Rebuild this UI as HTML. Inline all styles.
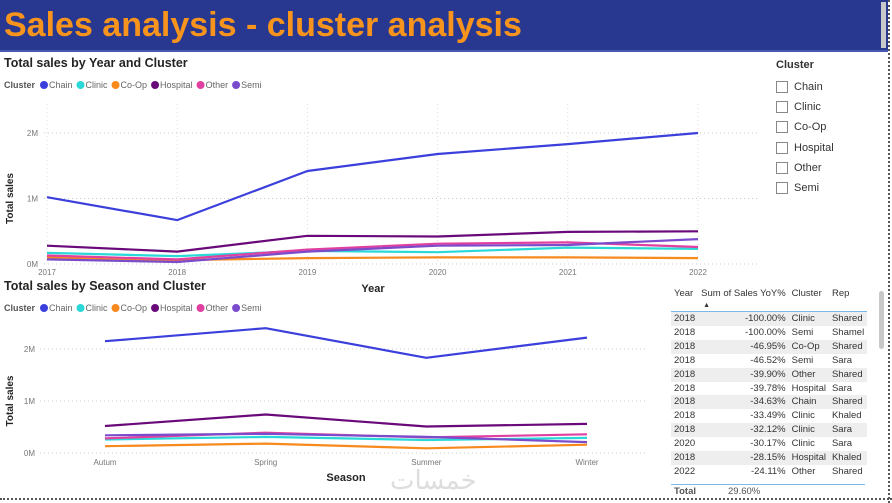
<!DOCTYPE html>
<html><head><meta charset="utf-8">
<style>
body{margin:0;width:892px;height:503px;overflow:hidden;background:#fff;font-family:"Liberation Sans",sans-serif;position:relative}
#hdr{position:absolute;left:0;top:0;width:888px;height:52px;background:#283890;border-bottom:2px solid #4a5ab0;box-sizing:border-box}
#hdr h1{margin:0;position:absolute;left:4px;top:6px;font-size:34px;font-weight:bold;color:#f7941d;letter-spacing:0px}
#hsb{position:absolute;left:881px;top:2px;width:5px;height:46px;background:#c8c8c8}
.vb{position:absolute;left:888px;top:0;height:503px;border-left:2px dotted #555}
.hb{position:absolute;left:0;top:498px;width:892px;border-top:2px dotted #555}
.slicer{position:absolute;left:776px;top:59px;font-size:11px;color:#333}
.slicer .t{font-weight:bold;font-size:11px;margin-bottom:6px}
.slicer .it{height:20.2px;display:flex;align-items:center}
.slicer .cb{width:10px;height:10px;border:1px solid #888;margin-right:6px}
#tbl{position:absolute;left:671px;top:288px;font-size:9.5px;color:#333;height:210px;overflow:hidden}
#tbl table{border-collapse:collapse}
#tbl td{height:13.9px;padding:0 3px;white-space:nowrap;line-height:13.9px}
#tbl tr:nth-child(even) td{background:#eee}
#tbl th{font-weight:normal;text-align:left;padding:0 3px;height:17px;border-bottom:1.5px solid #7ab8e8;vertical-align:top;line-height:11px}
#vsb{position:absolute;left:879px;top:291px;width:5px;height:58px;background:#c8c8c8;border-radius:3px}
</style></head><body>
<div id="hdr"><h1>Sales analysis - cluster analysis</h1><div id="hsb"></div></div>
<div class="vb"></div>
<div class="hb"></div>
<svg id="svg" width="892" height="503" style="position:absolute;left:0;top:0"></svg>
<div class="slicer">
<div class="t">Cluster</div>
<div class="it"><span class="cb"></span>Chain</div>
<div class="it"><span class="cb"></span>Clinic</div>
<div class="it"><span class="cb"></span>Co-Op</div>
<div class="it"><span class="cb"></span>Hospital</div>
<div class="it"><span class="cb"></span>Other</div>
<div class="it"><span class="cb"></span>Semi</div>
</div>
<div id="tbl">
<table>
<tr><th>Year</th><th>Sum of Sales YoY%<br><span style="font-size:7px;margin-left:2px">▲</span></th><th>Cluster</th><th>Rep</th></tr>
<tr><td>2018</td><td style="text-align:right">-100.00%</td><td>Clinic</td><td>Shared</td></tr>
<tr><td>2018</td><td style="text-align:right">-100.00%</td><td>Semi</td><td>Shamel</td></tr>
<tr><td>2018</td><td style="text-align:right">-46.95%</td><td>Co-Op</td><td>Shared</td></tr>
<tr><td>2018</td><td style="text-align:right">-46.52%</td><td>Semi</td><td>Sara</td></tr>
<tr><td>2018</td><td style="text-align:right">-39.90%</td><td>Other</td><td>Shared</td></tr>
<tr><td>2018</td><td style="text-align:right">-39.78%</td><td>Hospital</td><td>Sara</td></tr>
<tr><td>2018</td><td style="text-align:right">-34.63%</td><td>Chain</td><td>Shared</td></tr>
<tr><td>2018</td><td style="text-align:right">-33.49%</td><td>Clinic</td><td>Khaled</td></tr>
<tr><td>2018</td><td style="text-align:right">-32.12%</td><td>Clinic</td><td>Sara</td></tr>
<tr><td>2020</td><td style="text-align:right">-30.17%</td><td>Clinic</td><td>Sara</td></tr>
<tr><td>2018</td><td style="text-align:right">-28.15%</td><td>Hospital</td><td>Khaled</td></tr>
<tr><td>2022</td><td style="text-align:right">-24.11%</td><td>Other</td><td>Shared</td></tr>
</table>
<div style="height:5px"></div>
<div style="border-top:1.5px solid #7ab8e8;width:194px;height:14px;line-height:14px;position:relative"><span style="font-weight:bold;color:#555;position:absolute;left:3px">Total</span><span style="position:absolute;left:57px;color:#555">29.60%</span></div>
</div>
<div id="vsb"></div>
<div style="position:absolute;left:390px;top:466px;font-size:26px;color:#ddd;font-family:'DejaVu Sans',sans-serif">خمسات</div>
<script>
const clusters=["Chain","Clinic","Co-Op","Hospital","Other","Semi"];
const colors=["#3b3fdc","#2ad8d8","#f7891d","#6a0a7a","#e040a0","#7a4ccc"];
const years=["2017","2018","2019","2020","2021","2022"];
const yChain=[1.02,0.67,1.42,1.68,1.83,2.0];
const yClinic=[0.17,0.12,0.20,0.18,0.25,0.23];
const yCoop=[0.10,0.06,0.09,0.10,0.10,0.09];
const yHospital=[0.28,0.19,0.43,0.42,0.49,0.50];
const yOther=[0.13,0.07,0.22,0.31,0.33,0.26];
const ySemi=[0.07,0.03,0.19,0.28,0.29,0.38];
const seasons=["Autum","Spring","Summer","Winter"];
const sChain=[2.15,2.4,1.83,2.22];
const sClinic=[0.26,0.31,0.25,0.29];
const sCoop=[0.13,0.18,0.09,0.16];
const sHospital=[0.52,0.74,0.51,0.56];
const sOther=[0.28,0.39,0.30,0.36];
const sSemi=[0.34,0.37,0.31,0.21];
const yTicks=[0,1,2];
const yTickLabels=["0M","1M","2M"];
const svg=document.getElementById('svg');
const NS="http://www.w3.org/2000/svg";
function mk(tag,attrs,name,text){const e=document.createElementNS(NS,tag);for(const k in attrs)e.setAttribute(k,attrs[k]);


if(text!==undefined)e.textContent=text;svg.appendChild(e);return e;}
function chart(o){
 const xs=i=>o.x0+(o.x1-o.x0)*i/(o.cats.length-1);
 const ys=v=>o.y0-v*o.ppm;
 mk('text',{x:4,y:o.top+11,'font-size':12.5,'font-weight':'bold',fill:'#252423'},o.pre+'-title',o.title);
 let lx=4;
 mk('text',{x:lx,y:o.top+32,'font-size':9,fill:'#555','font-weight':'bold'},o.pre+'-legend-title','Cluster');lx+=36;
 clusters.forEach((c,i)=>{mk('circle',{cx:lx+4,cy:o.top+29,r:4,fill:colors[i]},o.pre+'-legend-dot-'+c.toLowerCase());
  const t=mk('text',{x:lx+9,y:o.top+32,'font-size':9,fill:'#666'},o.pre+'-legend-entry-'+c.toLowerCase(),c);lx+=9+t.getComputedTextLength()+4;});
 yTicks.forEach((v,i)=>{mk('line',{x1:o.gx0,x2:o.gx1,y1:ys(v),y2:ys(v),stroke:'#ccc','stroke-dasharray':'1,3'},o.pre+'-gridline');
  mk('text',{x:o.lab,y:ys(v)+3,'font-size':8,fill:'#777','text-anchor':'end'},o.pre+'-y-tick',yTickLabels[i]);});
 if(o.vgrid)o.cats.forEach((c,i)=>mk('line',{x1:xs(i),x2:xs(i),y1:o.vtop,y2:o.y0,stroke:'#ddd','stroke-dasharray':'1,3'},o.pre+'-vgrid'));
 o.cats.forEach((c,i)=>mk('text',{x:xs(i),y:o.y0+o.xlo,'font-size':8,fill:'#777','text-anchor':'middle'},o.pre+'-x-tick',c));
 mk('text',{x:o.xtx,y:o.xty,'font-size':11,'font-weight':'bold',fill:'#252423','text-anchor':'middle'},o.pre+'-x-axis-title',o.xt);
 const yc=(o.y0+ys(2))/2;
 mk('text',{x:13,y:yc,'font-size':10,'font-weight':'bold',fill:'#252423','text-anchor':'middle',transform:`rotate(-90 13 ${yc})`},o.pre+'-y-axis-title','Total sales');
 o.series.forEach((s,k)=>{const pts=s.map((v,i)=>xs(i).toFixed(1)+','+ys(v).toFixed(1)).join(' ');
  mk('polyline',{points:pts,fill:'none',stroke:colors[k],'stroke-width':2.2,'stroke-linejoin':'round'},o.pre+'-line-'+clusters[k].toLowerCase());});
}
chart({pre:'year-chart',title:'Total sales by Year and Cluster',top:56,cats:years,x0:47,x1:698,y0:264,ppm:65.5,gx0:44,gx1:760,lab:38,vgrid:true,vtop:104,xlo:11,xt:'Year',xtx:373,xty:292,
 series:[yChain,yClinic,yCoop,yHospital,yOther,ySemi]});
chart({pre:'season-chart',title:'Total sales by Season and Cluster',top:279,cats:seasons,x0:105,x1:587,y0:453,ppm:52,gx0:40,gx1:648,lab:35,vgrid:false,xlo:12,xt:'Season',xtx:346,xty:481,
 series:[sChain,sClinic,sCoop,sHospital,sOther,sSemi]});
</script>
</body></html>
